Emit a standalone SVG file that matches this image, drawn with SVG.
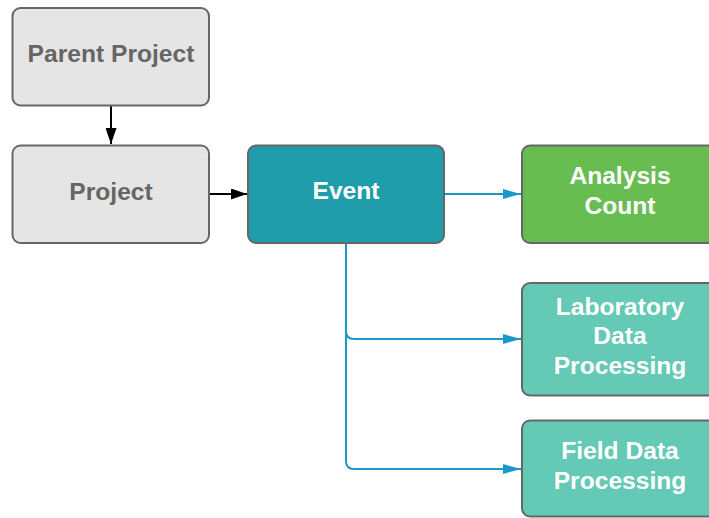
<svg xmlns="http://www.w3.org/2000/svg" width="709" height="518" viewBox="0 0 709 518">
  <defs>
    <style>
      .box { stroke: #666666; stroke-width: 2; }
      .gray { fill: #e5e5e5; }
      .event { fill: #1f9dab; }
      .green { fill: #68bd51; }
      .mint { fill: #64c9b5; }
      .lbl { font-family: "Liberation Sans", Arial, sans-serif; font-weight: bold; font-size: 24.6px; text-anchor: middle; }
      .dark { fill: #666666; }
      .light { fill: #ffffff; }
      .blk { fill: none; stroke: #000000; stroke-width: 2; }
      .blu { fill: none; stroke: #1a98c9; stroke-width: 2; }
    </style>
    <marker id="headBlack" markerWidth="16" markerHeight="11" refX="16" refY="5.5" orient="auto" markerUnits="userSpaceOnUse">
      <path d="M0,0 L16,5.5 L0,11 Z" fill="#000000"/>
    </marker>
    <marker id="headBlue" markerWidth="18" markerHeight="10" refX="18" refY="5" orient="auto" markerUnits="userSpaceOnUse">
      <path d="M0,0 L18,5 L0,10 Z" fill="#1a98c9"/>
    </marker>
  </defs>

  <g id="connectors">
    <line class="blk" x1="111" y1="106" x2="111" y2="144" marker-end="url(#headBlack)"/>
    <line class="blk" x1="210" y1="194" x2="247" y2="194" marker-end="url(#headBlack)"/>
    <line class="blu" x1="444" y1="194" x2="521" y2="194" marker-end="url(#headBlue)"/>
    <path class="blu" d="M346,244 V331 Q346,339 354,339 H521" marker-end="url(#headBlue)"/>
    <path class="blu" d="M346,331 V461 Q346,469 354,469 H521" marker-end="url(#headBlue)"/>
  </g>

  <g id="parent-project">
    <rect class="box gray" x="12.5" y="8" width="196.5" height="97.5" rx="8"/>
    <text class="lbl dark" x="111" y="62">Parent Project</text>
  </g>

  <g id="project">
    <rect class="box gray" x="12.5" y="145.5" width="196.5" height="97.5" rx="8"/>
    <text class="lbl dark" x="111" y="200">Project</text>
  </g>

  <g id="event">
    <rect class="box event" x="248" y="145.5" width="196" height="97.5" rx="8"/>
    <text class="lbl light" x="346" y="199">Event</text>
  </g>

  <g id="analysis-count">
    <rect class="box green" x="522" y="145.5" width="196" height="97.5" rx="8"/>
    <text class="lbl light" x="620" y="184">Analysis</text>
    <text class="lbl light" x="620" y="214">Count</text>
  </g>

  <g id="laboratory-data-processing">
    <rect class="box mint" x="522" y="283" width="196" height="112.5" rx="8"/>
    <text class="lbl light" x="620" y="315">Laboratory</text>
    <text class="lbl light" x="620" y="344">Data</text>
    <text class="lbl light" x="620" y="374">Processing</text>
  </g>

  <g id="field-data-processing">
    <rect class="box mint" x="522" y="420.5" width="196" height="96" rx="8"/>
    <text class="lbl light" x="620" y="459">Field Data</text>
    <text class="lbl light" x="620" y="489">Processing</text>
  </g>
</svg>
